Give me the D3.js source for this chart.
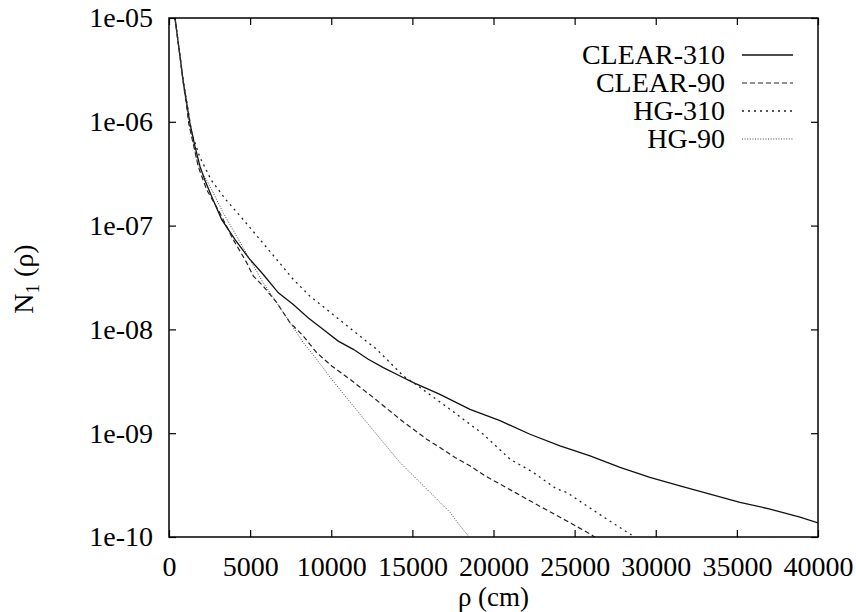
<!DOCTYPE html>
<html>
<head>
<meta charset="utf-8">
<script src="https://cdn.jsdelivr.net/npm/d3@7"></script>
<style>
  html, body { margin: 0; padding: 0; background: #fff; }
  svg text { font-family: "Liberation Serif", "Times New Roman", Times, "Nimbus Roman", "DejaVu Serif", serif; fill: #000; }
</style>
</head>
<body>
<svg id="chart" width="856" height="612"></svg>
<script>
// Lateral distribution N1(rho) for four simulation setups
const seriesNames = ["CLEAR-310", "CLEAR-90", "HG-310", "HG-90"];

const clear310Rho = [370, 680, 890, 1090, 1290, 1600, 1910, 2220, 2630, 3250, 4070, 4990, 5810, 6740, 7660, 8590, 9510, 10430, 11360, 12280, 13210, 14240, 15060, 16700, 18550, 20400, 22250, 24100, 25950, 27800, 29640, 31490, 33340, 35190, 37040, 38890, 40000];
const clear310N = [1.0e-5, 4.25e-6, 2.36e-6, 1.51e-6, 9.7e-7, 5.79e-7, 3.72e-7, 2.72e-7, 1.91e-7, 1.14e-7, 7.33e-8, 4.71e-8, 3.38e-8, 2.25e-8, 1.74e-8, 1.29e-8, 1.0e-8, 7.71e-9, 6.43e-9, 5.15e-9, 4.29e-9, 3.56e-9, 3.07e-9, 2.37e-9, 1.70e-9, 1.32e-9, 9.77e-10, 7.55e-10, 6.05e-10, 4.68e-10, 3.75e-10, 3.11e-10, 2.59e-10, 2.16e-10, 1.86e-10, 1.55e-10, 1.37e-10];

const clear90Rho = [370, 680, 890, 1080, 1220, 1800, 2320, 3140, 3960, 4790, 5200, 5810, 6640, 7460, 8280, 9100, 10030, 11160, 12700, 14240, 15060, 15880, 16700, 17630, 18550, 19480, 20400, 21320, 22250, 23170, 24100, 25020, 25950, 26400];
const clear90N = [1.0e-5, 4.25e-6, 2.3e-6, 1.45e-6, 9.6e-7, 3.72e-7, 2.22e-7, 1.32e-7, 7.33e-8, 4.38e-8, 3.26e-8, 2.61e-8, 1.81e-8, 1.16e-8, 8.63e-9, 5.97e-9, 4.44e-9, 3.30e-9, 2.14e-9, 1.36e-9, 1.09e-9, 8.75e-10, 7.28e-10, 5.83e-10, 4.85e-10, 3.88e-10, 3.24e-10, 2.69e-10, 2.23e-10, 1.86e-10, 1.55e-10, 1.29e-10, 1.07e-10, 9.6e-11];

const hg310Rho = [370, 680, 890, 1100, 1400, 1900, 2600, 3500, 4580, 5610, 6640, 7660, 8690, 9720, 10740, 11770, 12800, 13620, 14440, 15060, 17320, 19370, 21020, 22450, 23890, 24510, 25740, 26980, 28410, 28900];
const hg310N = [1.0e-5, 4.3e-6, 2.45e-6, 1.55e-6, 7.8e-7, 4.57e-7, 2.75e-7, 1.78e-7, 1.14e-7, 7.33e-8, 4.71e-8, 3.03e-8, 2.09e-8, 1.56e-8, 1.16e-8, 8.63e-9, 6.43e-9, 4.79e-9, 3.56e-9, 3.07e-9, 1.70e-9, 9.77e-10, 5.62e-10, 4.19e-10, 2.90e-10, 2.69e-10, 2.0e-10, 1.49e-10, 1.07e-10, 9.5e-11];

const hg90Rho = [370, 680, 890, 1080, 1220, 1800, 2530, 3350, 4170, 4990, 5810, 6640, 7460, 8280, 9100, 10030, 11000, 12000, 13000, 14240, 14850, 15470, 16090, 16700, 17320, 17930, 18350, 18600];
const hg90N = [1.0e-5, 4.2e-6, 2.3e-6, 1.45e-6, 9.8e-7, 3.8e-7, 2.39e-7, 1.32e-7, 7.89e-8, 4.71e-8, 2.81e-8, 1.81e-8, 1.16e-8, 7.45e-9, 5.15e-9, 3.30e-9, 2.14e-9, 1.38e-9, 8.9e-10, 5.22e-10, 4.19e-10, 3.36e-10, 2.69e-10, 2.16e-10, 1.73e-10, 1.29e-10, 1.07e-10, 9.5e-11];

const xTickValues = [0, 5000, 10000, 15000, 20000, 25000, 30000, 35000, 40000];
const yTickValues = [1e-5, 1e-6, 1e-7, 1e-8, 1e-9, 1e-10];
const yTickLabels = ["1e-05", "1e-06", "1e-07", "1e-08", "1e-09", "1e-10"];

const series = [
  { name: seriesNames[0], rho: clear310Rho, n: clear310N, dash: null,  color: "#111", width: 1.3 },
  { name: seriesNames[1], rho: clear90Rho,  n: clear90N,  dash: "5,3", color: "#222", width: 1.2 },
  { name: seriesNames[2], rho: hg310Rho,    n: hg310N,    dash: "2,4", color: "#222", width: 1.3 },
  { name: seriesNames[3], rho: hg90Rho,     n: hg90N,     dash: "1,1.6", color: "#444", width: 1.0 }
];

const plotLeft = 169, plotRight = 818, plotTop = 18, plotBottom = 537;
const svg = d3.select("#chart");
const fontSize = 28;
const serifStack = "'Liberation Serif', 'Times New Roman', Times, 'Nimbus Roman', 'DejaVu Serif', serif";

const x = d3.scaleLinear().domain([0, 40000]).range([plotLeft, plotRight]);
const y = d3.scaleLog().domain([1e-10, 1e-5]).range([plotBottom, plotTop]);

svg.append("defs").append("clipPath").attr("id", "plotClip")
  .append("rect").attr("x", plotLeft).attr("y", plotTop)
  .attr("width", plotRight - plotLeft).attr("height", plotBottom - plotTop);

// curves
const line = d3.line().x(d => x(d[0])).y(d => y(d[1]));
const curves = svg.append("g").attr("clip-path", "url(#plotClip)");
series.forEach(s => {
  const pts = s.rho.map((r, i) => [r, s.n[i]]);
  curves.append("path")
    .datum(pts)
    .attr("d", line)
    .attr("fill", "none")
    .attr("stroke", s.color)
    .attr("stroke-width", s.width)
    .attr("stroke-dasharray", s.dash);
});

// axes with inward ticks
const tick = 7;
const gx = svg.append("g").attr("transform", `translate(0,${plotBottom})`)
  .call(d3.axisBottom(x).tickValues(xTickValues).tickFormat(d3.format("d"))
    .tickSizeInner(-tick).tickSizeOuter(0).tickPadding(19));
const gxTop = svg.append("g").attr("transform", `translate(0,${plotTop})`)
  .call(d3.axisTop(x).tickValues(xTickValues).tickFormat("")
    .tickSizeInner(-tick).tickSizeOuter(0));
const gy = svg.append("g").attr("transform", `translate(${plotLeft},0)`)
  .call(d3.axisLeft(y).tickValues(yTickValues)
    .tickFormat((d, i) => yTickLabels[i])
    .tickSizeInner(-tick).tickSizeOuter(0).tickPadding(16));
const gyRight = svg.append("g").attr("transform", `translate(${plotRight},0)`)
  .call(d3.axisRight(y).tickValues(yTickValues).tickFormat("")
    .tickSizeInner(-tick).tickSizeOuter(0));

[gx, gxTop, gy, gyRight].forEach(g => {
  g.attr("font-family", serifStack).attr("font-size", fontSize);
  g.select(".domain").remove();
  g.selectAll(".tick line").attr("stroke", "#000").attr("stroke-width", 1.2);
  g.selectAll("text").attr("font-size", fontSize).style("font-family", serifStack);
});

// frame
svg.append("rect")
  .attr("x", plotLeft).attr("y", plotTop)
  .attr("width", plotRight - plotLeft).attr("height", plotBottom - plotTop)
  .attr("fill", "none").attr("stroke", "#000").attr("stroke-width", 1.5);

// axis titles
svg.append("text")
  .attr("x", (plotLeft + plotRight) / 2).attr("y", 606)
  .attr("text-anchor", "middle").attr("font-size", 27)
  .style("font-family", serifStack)
  .text("ρ (cm)");

const yTitle = svg.append("text")
  .attr("transform", "translate(33,279) rotate(-90)")
  .attr("text-anchor", "middle").attr("font-size", fontSize)
  .style("font-family", serifStack);
yTitle.append("tspan").text("N");
yTitle.append("tspan").attr("font-size", 19).attr("dy", 6).text("1");
yTitle.append("tspan").attr("dy", -6).text(" (ρ)");

// legend
const legend = svg.append("g");
series.forEach((s, i) => {
  const base = 64 + i * 28;
  legend.append("text")
    .attr("x", 725).attr("y", base)
    .attr("text-anchor", "end").attr("font-size", fontSize)
    .style("font-family", serifStack)
    .text(s.name);
  legend.append("line")
    .attr("x1", 742).attr("x2", 793)
    .attr("y1", base - 9).attr("y2", base - 9)
    .attr("stroke", s.color).attr("stroke-width", s.width)
    .attr("stroke-dasharray", s.dash);
});
</script>
</body>
</html>
